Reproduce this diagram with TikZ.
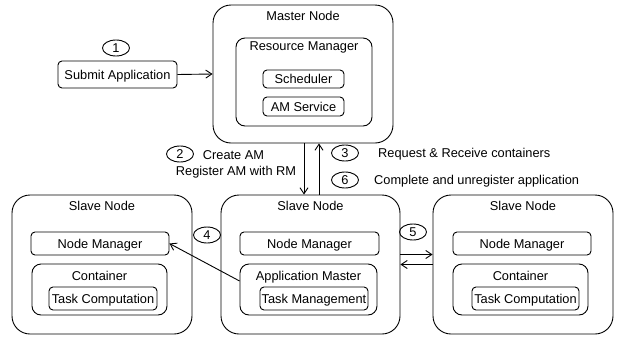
\documentclass[tikz,border=0pt]{standalone}
\usepackage{fontspec}
\setmainfont{Liberation Sans}
\usetikzlibrary{shapes.geometric,arrows.meta}

\begin{document}
\begin{tikzpicture}[x=1pt,y=-1pt,
        every node/.style={font=\fontsize{12.8}{17}\selectfont, text height=9.2pt, text depth=0pt, inner sep=1pt},
        outerbox/.style={draw, line width=0.9pt, rounded corners=18pt, minimum width=180pt, minimum height=139pt},
        midbox/.style={draw, line width=0.9pt, rounded corners=9pt},
        smallbox/.style={draw, line width=0.9pt, rounded corners=4pt, minimum height=23pt},
        stepnum/.style={draw, ellipse, line width=0.9pt, minimum width=27pt, minimum height=16pt, inner sep=0pt},
        arr/.style={line width=0.9pt, -{Straight Barb[length=6pt,width=8pt]}}]

    \useasboundingbox (0,0) rectangle (622,338);

    % master side
    \node[outerbox, minimum height=138pt] (master) at (303,74) {};
    \node (masterT) at (303,16) {Master Node};
    \node[midbox, minimum width=136pt, minimum height=88pt] (rm) at (304,82) {};
    \node (rmT) at (304,46) {Resource Manager};
    \node[smallbox, minimum width=81pt, minimum height=18pt] (sched) at (303.5,79) {Scheduler};
    \node[smallbox, minimum width=81pt, minimum height=19pt] (amsvc) at (303.5,106.5) {AM Service};

    \node[smallbox, minimum width=119pt, minimum height=27pt] (submit) at (117.5,74.5) {Submit Application};
    \node[stepnum] (n1) at (116,48) {1};
    \draw[arr] (submit.east) -- (master.west);

    % slave nodes
    \node[outerbox] (slL) at (102,264.5) {};
    \node[outerbox, minimum width=179pt] (slM) at (310.5,264.5) {};
    \node[outerbox] (slR) at (523,264.5) {};
    \node (slLT) at (102,206) {Slave Node};
    \node (slMT) at (310.5,206) {Slave Node};
    \node (slRT) at (523,206) {Slave Node};

    \node[smallbox, minimum width=138pt] (nmL) at (100,243.5) {Node Manager};
    \node[smallbox, minimum width=139pt] (nmM) at (309.5,243.5) {Node Manager};
    \node[smallbox, minimum width=138pt] (nmR) at (522,243.5) {Node Manager};

    \node[midbox, minimum width=135pt, minimum height=51pt] (ctL) at (99.5,289.5) {};
    \node[midbox, minimum width=137pt, minimum height=51pt] (amM) at (308.5,289.5) {};
    \node[midbox, minimum width=135pt, minimum height=51pt] (ctR) at (520.5,289.5) {};
    \node (ctLT) at (99.5,276) {Container};
    \node (amMT) at (308.5,276) {Application Master};
    \node (ctRT) at (520.5,276) {Container};

    \node[smallbox, minimum width=108pt] (tcL) at (103,298.5) {Task Computation};
    \node[smallbox, minimum width=108pt] (tmM) at (314,298.5) {Task Management};
    \node[smallbox, minimum width=107pt] (tcR) at (525.5,298.5) {Task Computation};

    % steps
    \draw[arr] ([xshift=1pt]master.south) -- ([xshift=1pt]master.south |- slM.north);
    \draw[arr] ([xshift=8.5pt]slM.north) -- ([xshift=8.5pt]slM.north |- master.south);
    \node[stepnum] (n2) at (180,154) {2};
    \node (t2a) at (233.5,155) {Create AM};
    \node (t2b) at (236,171) {Register AM with RM};
    \node[stepnum] (n3) at (345,153) {3};
    \node[anchor=west] (t3) at (377,153) {Request \& Receive containers};
    \node[stepnum] (n6) at (345,180) {6};
    \node[anchor=west] (t6) at (373,180) {Complete and unregister application};

    \node[stepnum] (n4) at (207,235) {4};
    \draw[arr] ([yshift=8.5pt]amM.west) -- (nmL.east);

    \node[stepnum] (n5) at (413,232) {5};
    \draw[arr] ([yshift=10pt]slM.east) -- ([yshift=10pt]slR.west);
    \draw[arr] (slR.west) -- (slM.east);

\end{tikzpicture}
\end{document}
